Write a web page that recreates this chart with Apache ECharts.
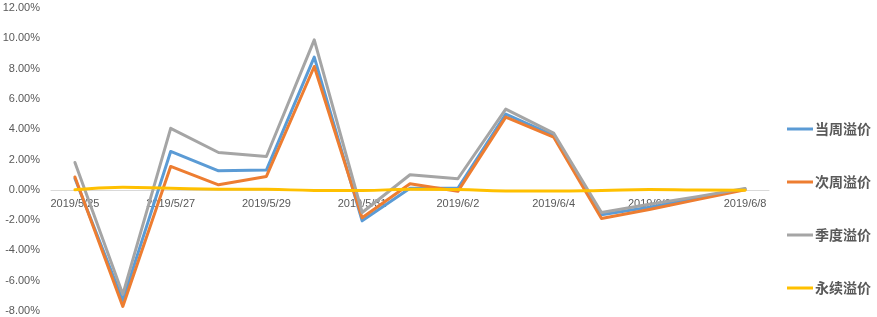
<!DOCTYPE html>
<html>
<head>
<meta charset="utf-8">
<script src="https://cdn.jsdelivr.net/npm/echarts@6/dist/echarts.min.js"></script>
<style>html,body{margin:0;padding:0;background:#fff}#c{width:877px;height:317px}</style>
</head>
<body>
<div id="c"></div>
<script>
const categories = ['2019/5/25','2019/5/26','2019/5/27','2019/5/28','2019/5/29','2019/5/30','2019/5/31','2019/6/1','2019/6/2','2019/6/3','2019/6/4','2019/6/5','2019/6/6','2019/6/7','2019/6/8'];
const seriesNames = ['当周溢价','次周溢价','季度溢价','永续溢价'];
const dangZhou = [0.75, -7.3, 2.53, 1.25, 1.3, 8.76, -2.05, 0.1, 0.1, 5.0, 3.6, -1.65, -1.15, -0.55, 0.05];
const ciZhou   = [0.85, -7.7, 1.54, 0.33, 0.88, 8.14, -1.85, 0.4, -0.1, 4.8, 3.48, -1.9, -1.3, -0.65, 0.0];
const jiDu     = [1.8, -6.9, 4.06, 2.46, 2.2, 9.9, -1.5, 0.99, 0.73, 5.33, 3.74, -1.5, -0.95, -0.45, 0.08];
const yongXu   = [0.0, 0.17, 0.1, 0.04, 0.03, -0.04, -0.05, 0.04, 0.02, -0.08, -0.08, -0.04, 0.02, -0.02, -0.03];
const yTicks = {min: -8, max: 12, interval: 2};
const colors = ['#5B9BD5','#ED7D31','#A5A5A5','#FFC000'];

const W = 877, H = 317;
const gridTop = 8, gridBottom = 6;
const plotH = H - gridTop - gridBottom;
const zeroFromBottom = plotH * (0 - yTicks.min) / (yTicks.max - yTicks.min);

const chart = echarts.init(document.getElementById('c'));
const allData = [dangZhou, ciZhou, jiDu, yongXu];
chart.setOption({
  animation: false,
  color: colors,
  grid: {left: 51, right: 108, top: gridTop, bottom: gridBottom, containLabel: false, outerBoundsMode: 'none'},
  legend: {
    orient: 'vertical',
    left: 782,
    top: 117,
    icon: 'rect',
    itemWidth: 26,
    itemHeight: 3,
    itemGap: 39,
    textStyle: {fontSize: 14, color: '#595959', fontWeight: 'bold', fontFamily: 'Noto Sans CJK SC', padding: [0,0,0,-3]},
    data: seriesNames
  },
  xAxis: {
    type: 'category',
    data: categories,
    position: 'bottom',
    offset: -zeroFromBottom,
    boundaryGap: true,
    axisLine: {onZero: false, lineStyle: {color: '#D9D9D9', width: 1}},
    axisTick: {show: false},
    axisLabel: {interval: 1, color: '#595959', fontSize: 11, fontFamily: 'Liberation Sans', margin: 9},
    splitLine: {show: false}
  },
  yAxis: {
    type: 'value',
    min: yTicks.min, max: yTicks.max, interval: yTicks.interval,
    axisLine: {show: false},
    axisTick: {show: false},
    splitLine: {show: false},
    axisLabel: {color: '#595959', fontSize: 11, fontFamily: 'Liberation Sans', margin: 11,
      formatter: v => v.toFixed(2) + '%'}
  },
  series: seriesNames.map((n, i) => ({
    name: n,
    type: 'line',
    data: allData[i],
    symbol: 'none',
    smooth: i === 3 ? 0.5 : false,
    lineStyle: {width: 3, color: colors[i], cap: 'round', join: 'round'},
    itemStyle: {color: colors[i]}
  }))
});
</script>
</body>
</html>
